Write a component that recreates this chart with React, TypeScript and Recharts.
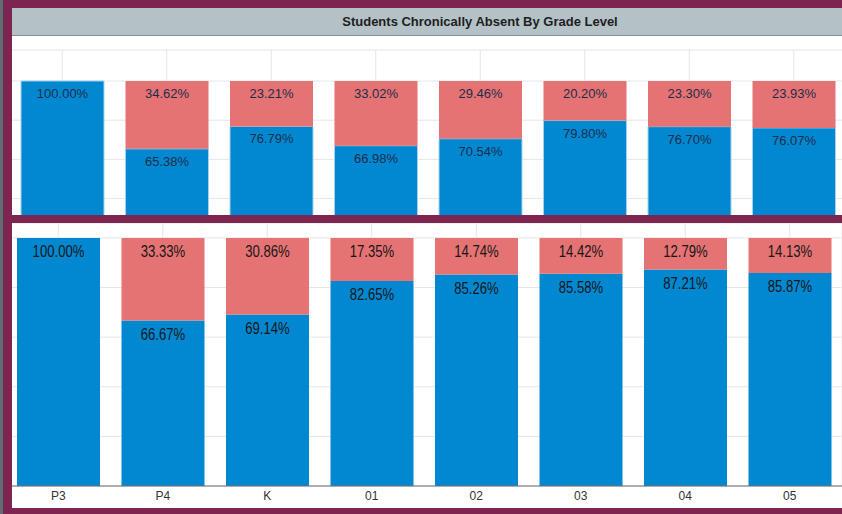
import React from 'react';
import { BarChart, Bar, XAxis, YAxis, CartesianGrid, LabelList } from 'recharts';

const grades = ['P3', 'P4', 'K', '01', '02', '03', '04', '05'];

// upper (previous year) panel
const topAbsent = [0, 34.62, 23.21, 33.02, 29.46, 20.2, 23.3, 23.93];
const topNotAbsent = [100, 65.38, 76.79, 66.98, 70.54, 79.8, 76.7, 76.07];

// lower (current year) panel
const bottomAbsent = [0, 33.33, 30.86, 17.35, 14.74, 14.42, 12.79, 14.13];
const bottomNotAbsent = [100, 66.67, 69.14, 82.65, 85.26, 85.58, 87.21, 85.87];

const pctTicks = [0, 20, 40, 60, 80, 100];

const topData = grades.map((g, i) => ({ grade: g, notAbsent: topNotAbsent[i], absent: topAbsent[i] }));
const bottomData = grades.map((g, i) => ({ grade: g, notAbsent: bottomNotAbsent[i], absent: bottomAbsent[i] }));

const BLUE = '#0288d1';
const RED = '#e57373';
const MAROON = '#7e2450';
const FONT = '"Liberation Sans", Arial, sans-serif';

function makeLabel(size: number, baseline: number, scaleX: number, color: string) {
  return (props: any) => {
    const { x, y, width, value } = props;
    if (!value) return null;
    const cx = Number(x) + Number(width) / 2;
    const ty = Number(y) + baseline;
    return (
      <text
        transform={`translate(${cx},${ty}) scale(${scaleX},1)`}
        x={0}
        y={0}
        textAnchor="middle"
        fontSize={size}
        fontFamily={FONT}
        fill={color}
      >
        {Number(value).toFixed(2)}%
      </text>
    );
  };
}

const topLabel = makeLabel(13, 17, 1, '#1c2d4a');
const bottomLabel = makeLabel(16, 19.5, 0.82, '#161616');

export default function App() {
  return (
    <div
      style={{
        position: 'absolute',
        left: 0,
        top: 0,
        width: 842,
        height: 514,
        background: MAROON,
        overflow: 'hidden',
        fontFamily: FONT,
      }}
    >
      <div style={{ position: 'absolute', left: 0, top: 0, width: 3, height: 514, background: '#5b6e71' }} />

      {/* title bar */}
      <div
        style={{
          position: 'absolute',
          left: 12,
          top: 8,
          width: 830,
          height: 27,
          background: '#b4c1c7',
          borderBottom: '1px solid #7f919b',
        }}
      >
        <span
          style={{
            position: 'absolute',
            left: 468,
            top: 6,
            transform: 'translateX(-50%)',
            whiteSpace: 'nowrap',
            fontSize: 13,
            fontWeight: 'bold',
            color: '#1e1e1e',
          }}
        >
          Students Chronically Absent By Grade Level
        </span>
      </div>

      {/* upper panel, scrolled so only the top of the bars shows */}
      <div
        style={{
          position: 'absolute',
          left: 12,
          top: 36,
          width: 830,
          height: 179,
          background: '#fff',
          overflow: 'hidden',
        }}
      >
        <div style={{ position: 'absolute', left: -2, top: 0 }}>
          <BarChart width={836} height={241} data={topData} margin={{ top: 14, right: 0, bottom: 0, left: 0 }}>
            <CartesianGrid stroke="#e6e6e6" />
            <XAxis dataKey="grade" hide />
            <YAxis hide domain={[0, 115.8]} ticks={pctTicks} allowDataOverflow />
            <Bar dataKey="notAbsent" stackId="a" fill={BLUE} stroke="#9fd3ef" strokeWidth={1} barSize={83} isAnimationActive={false}>
              <LabelList dataKey="notAbsent" content={topLabel} />
            </Bar>
            <Bar dataKey="absent" stackId="a" fill={RED} barSize={83} isAnimationActive={false}>
              <LabelList dataKey="absent" content={topLabel} />
            </Bar>
          </BarChart>
        </div>
      </div>

      {/* lower panel */}
      <div
        style={{
          position: 'absolute',
          left: 12,
          top: 223,
          width: 830,
          height: 285,
          background: '#fff',
          overflow: 'hidden',
        }}
      >
        <div style={{ position: 'absolute', left: -6, top: 0 }}>
          <BarChart width={836} height={285} data={bottomData} margin={{ top: 0, right: 0, bottom: 0, left: 0 }}>
            <CartesianGrid stroke="#e6e6e6" />
            <XAxis
              dataKey="grade"
              height={22}
              tickLine={false}
              tickSize={0}
              tickMargin={5}
              axisLine={{ stroke: '#6b6b6b' }}
              tick={{ fontSize: 12, fill: '#333', fontFamily: FONT }}
              interval={0}
            />
            <YAxis hide domain={[0, 106]} ticks={pctTicks} allowDataOverflow />
            <Bar dataKey="notAbsent" stackId="b" fill={BLUE} barSize={83} isAnimationActive={false}>
              <LabelList dataKey="notAbsent" content={bottomLabel} />
            </Bar>
            <Bar dataKey="absent" stackId="b" fill={RED} barSize={83} isAnimationActive={false}>
              <LabelList dataKey="absent" content={bottomLabel} />
            </Bar>
          </BarChart>
        </div>
      </div>
    </div>
  );
}
